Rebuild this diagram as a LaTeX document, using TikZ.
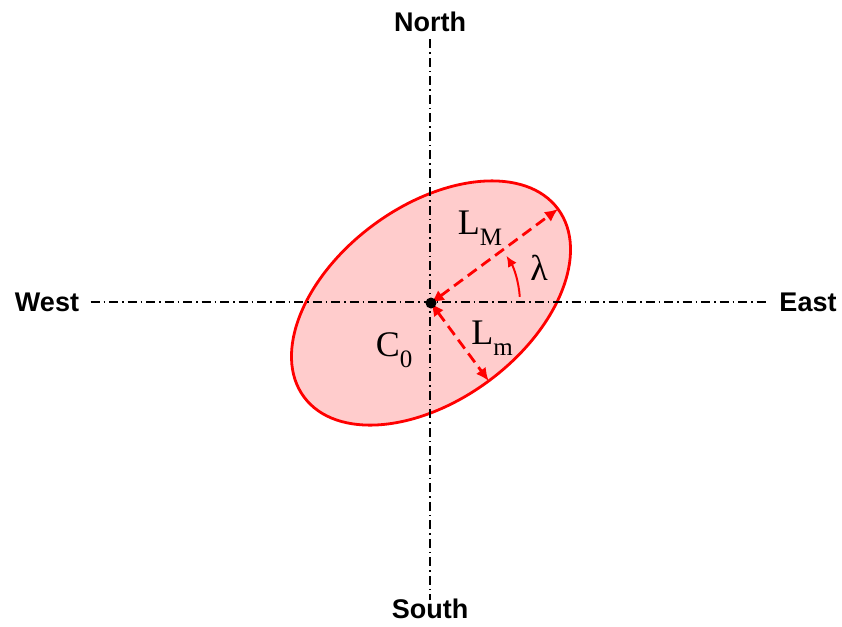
\documentclass[tikz,border=0pt]{standalone}
\usepackage{fontspec}
\newfontfamily\dirfont{Liberation Sans}
\newfontfamily\labfont{Liberation Serif}
\usetikzlibrary{arrows.meta,calc}
\definecolor{ellfill}{RGB}{255,204,204}
\newcommand\lsub[1]{\raisebox{-0.3em}{\fontsize{25}{27}\selectfont #1}}
\tikzset{
  axis/.style={black, line width=1.3pt, dash pattern=on 9pt off 4pt on 1.5pt off 4pt},
  dirlabel/.style={font=\dirfont\fontsize{27}{30}\selectfont\bfseries},
  semiaxis/.style={red, line width=2.8pt, dash pattern=on 11pt off 6pt, {Latex[length=13pt,width=12pt]}-{Latex[length=13pt,width=12pt]}},
  labtext/.style={font=\labfont\fontsize{36}{40}\selectfont}
}
\begin{document}
\begin{tikzpicture}[x=1pt,y=-1pt]
    \useasboundingbox (0,0) rectangle (842,626);
    % compass labels
    \node[dirlabel] (north) at (430,22) {North};
    \node[dirlabel] (south) at (430,609) {South};
    \node[dirlabel] (west) at (47,302) {West};
    \node[dirlabel] (east) at (808,302) {East};
    % ellipse
    \coordinate (c0) at (431,303);
    \draw[red, line width=2.8pt, fill=ellfill, rotate around={36.5:(c0)}] (c0) ellipse [x radius=158, y radius=97];
    % axes
    \draw[axis] (north.south) ++(0,4) -- ([yshift=-4]south.north);
    \draw[axis] (west.east) ++(8,0) -- ([xshift=-8]east.west);
    % semi axes
    \coordinate (pM) at ($(c0)+(127,-94)$);
    \coordinate (pm) at ($(c0)+(57.7,78)$);
    \draw[semiaxis] (c0) -- (pM);
    \draw[semiaxis] (c0) -- (pm);
    \fill (c0) circle (5.5);
    % angle
    \draw[red, line width=2pt, -{Latex[length=11pt,width=10pt]}] ($(c0)+(-4:89)$) arc[start angle=-4, end angle=-32, radius=89] coordinate (lamend);
    \node[labtext] (lm) at (480,228) {L\lsub{M}};
    \node[labtext] (lam) at (539,268) {λ};
    \node[labtext] (lmin) at (492,338) {L\lsub{m}};
    \node[labtext] (cz) at (394,350) {C\lsub{0}};
\end{tikzpicture}
\end{document}
